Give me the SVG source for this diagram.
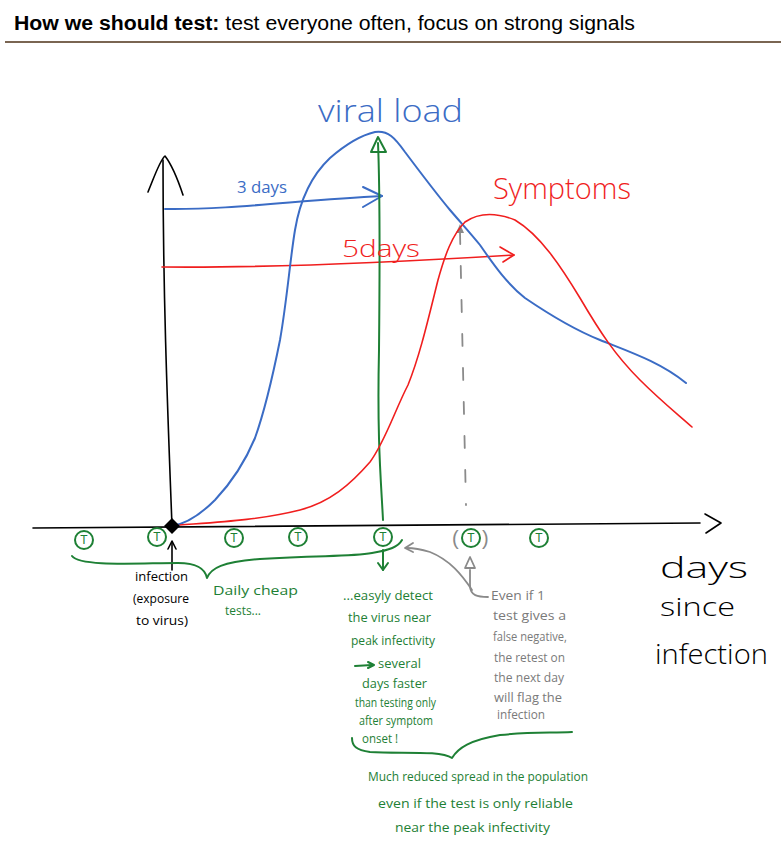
<svg xmlns="http://www.w3.org/2000/svg" width="781" height="847" viewBox="0 0 781 847">
<style>
.ln{fill:none;stroke-linecap:round;stroke-linejoin:round}
.k{stroke:#000;stroke-width:1.6}
.b{stroke:#3b6cc5;stroke-width:2}
.r{stroke:#f01e1e;stroke-width:1.6}
.g{stroke:#1e8035;stroke-width:2}
.gy{stroke:#8a8a8a;stroke-width:1.8}
.hand{font-family:"Open Sans","Liberation Sans",sans-serif}
.tg{fill:#1e8035;font-size:13px}
.tgy{fill:#7a7a7a;font-size:12px}
.tk{fill:#000;font-size:13px}
.tc{fill:none;stroke:#1e8035;stroke-width:2}
.tt{fill:#1e8035;font-family:"Liberation Sans",sans-serif;font-size:12px;text-anchor:middle}
</style>
<rect width="781" height="847" fill="#fff"/>
<g id="title">
<text x="14" y="30" font-family="Liberation Sans, sans-serif" font-size="20" fill="#000" textLength="621" lengthAdjust="spacingAndGlyphs"><tspan font-weight="bold">How we should test:</tspan> test everyone often, focus on strong signals</text>
<line x1="5" y1="42" x2="781" y2="42" stroke="#7a6552" stroke-width="2"/>
</g>
<g id="connectors">
<path class="ln k" d="M33,528 C200,526 400,524 700,523"/>
<path class="ln k" d="M705,514 L721,523 L706,533"/>
<path class="ln k" d="M172,526 C168,420 163,300 163,160"/>
<path class="ln k" d="M148,192 C155,175 160,160 165,156 C172,165 178,180 183,195"/>
<path class="ln b" d="M165,209 C230,210 300,200 382,196"/>
<path class="ln b" d="M363,187 L382,196 L363,207"/>
<path class="ln r" d="M162,267 C260,268 400,262 514,255"/>
<path class="ln r" d="M500,247 L514,255 L503,262"/>
<path class="ln g" d="M383,520 C381,480 377,440 379,350 C380,250 380,190 378,143"/>
<path class="ln g" d="M378,137 L371,152 L386,152 Z"/>
<path class="ln gy" d="M460,232 L466,505" stroke-dasharray="12,22" stroke-width="1.3"/>
<path d="M460,224 L456,233 L464,233 Z" fill="#8a8a8a"/>
<path class="ln g" d="M383,550 L383,570" stroke-width="1.6"/>
<path class="ln g" d="M378,563 L383,570 L388,563" stroke-width="1.6"/>
<path class="ln k" d="M172,570 L172,542"/>
<path class="ln k" d="M168,549 L172,541 L176,549"/>
<path class="ln gy" d="M488,597 C478,597 470,596 470,585 L470,570"/>
<path class="ln gy" d="M470,557 L465,568 L475,568 Z" stroke-width="1.4"/>
<path class="ln gy" d="M472,590 C462,575 450,560 430,552 C420,549 413,548 407,548"/>
<path class="ln gy" d="M413,543 L405,548 L413,552" stroke-width="1.4"/>
<path class="ln g" d="M72,556 C80,567 140,563 178,563 C198,563 205,569 207,578 C211,568 222,562 260,559 C320,555 350,557 372,553 C390,550 398,547 402,540" stroke-width="1.6"/>
<path class="ln g" d="M352,738 C352,746 356,750 370,752 C400,754 440,750 452,758 C458,748 470,740 500,735 C530,732 550,733 572,732" stroke-width="1.8"/>
<path class="ln g" d="M355,666 L372,665" stroke-width="1.4"/>
<path class="ln g" d="M368,662 L374,665 L368,668" stroke-width="1.4"/>
</g>
<g id="curves">
<path class="ln b" d="M172,526 C185,524 200,515 215,500 C232,482 245,462 255,438 C265,410 273,375 280,340 C287,300 290,260 295,230 C300,200 312,175 330,158 C345,145 362,135 375,132 C388,130 395,138 405,152 C420,172 435,192 450,210 C462,224 472,235 480,245 C492,262 505,282 525,298 C550,315 575,330 600,340 C630,352 660,362 686,383" stroke-width="1.6"/>
<path class="ln r" d="M180,525 C220,522 260,520 300,510 C330,502 350,485 370,462 C385,442 395,410 408,385 C420,355 428,320 438,280 C445,255 452,235 465,222 C478,213 495,212 515,220 C540,235 560,265 580,298 C600,332 615,355 640,380 C660,400 675,412 692,427"/>
</g>
<g id="labels-top">
<text x="318" y="122" class="hand" font-size="32" fill="#3b6cc5" font-weight="300" textLength="145" lengthAdjust="spacingAndGlyphs">viral load</text>
<text x="493" y="199" class="hand" font-size="30" fill="#f01e1e" font-weight="300" textLength="138" lengthAdjust="spacingAndGlyphs">Symptoms</text>
<text x="237" y="193" class="hand" font-size="16" fill="#3b6cc5" textLength="50" lengthAdjust="spacingAndGlyphs">3 days</text>
<text x="342" y="257" class="hand" font-size="24" fill="#f01e1e" font-weight="300" textLength="78" lengthAdjust="spacingAndGlyphs">5days</text>
</g>
<g id="infection-point">
<path d="M172,518 L180,526 L172,534 L164,526 Z" fill="#000"/>
</g>
<g id="tests">
<g id="t1"><circle class="tc" cx="84" cy="540" r="9"/><text class="tt" x="84" y="544">T</text></g>
<g id="t2"><circle class="tc" cx="157" cy="537" r="9"/><text class="tt" x="157" y="541">T</text></g>
<g id="t3"><circle class="tc" cx="234" cy="538" r="9"/><text class="tt" x="234" y="542">T</text></g>
<g id="t4"><circle class="tc" cx="298" cy="537" r="9"/><text class="tt" x="298" y="541">T</text></g>
<g id="t5"><circle class="tc" cx="383" cy="537" r="9"/><text class="tt" x="383" y="541">T</text></g>
<g id="t6"><circle class="tc" cx="471" cy="538" r="9"/><text class="tt" x="471" y="542">T</text><text x="452" y="545" font-family="Liberation Sans, sans-serif" font-size="20" fill="#8a8a8a">(</text><text x="482" y="545" font-family="Liberation Sans, sans-serif" font-size="20" fill="#8a8a8a">)</text></g>
<g id="t7"><circle class="tc" cx="539" cy="538" r="9"/><text class="tt" x="539" y="542">T</text></g>
</g>
<g id="label-infection">
<text class="hand tk" x="135" y="581" textLength="53" lengthAdjust="spacingAndGlyphs">infection</text>
<text class="hand tk" x="133" y="603" textLength="56" lengthAdjust="spacingAndGlyphs">(exposure</text>
<text class="hand tk" x="136" y="625" textLength="52" lengthAdjust="spacingAndGlyphs">to virus)</text>
</g>
<g id="label-daily">
<text class="hand tg" x="213" y="595" textLength="85" lengthAdjust="spacingAndGlyphs">Daily cheap</text>
<text class="hand tg" x="225" y="615" textLength="36" lengthAdjust="spacingAndGlyphs">tests...</text>
</g>
<g id="label-detect">
<text class="hand tg" x="343" y="600" textLength="90" lengthAdjust="spacingAndGlyphs">...easyly detect</text>
<text class="hand tg" x="348" y="622" textLength="83" lengthAdjust="spacingAndGlyphs">the virus near</text>
<text class="hand tg" x="351" y="645" textLength="84" lengthAdjust="spacingAndGlyphs">peak infectivity</text>
<text class="hand tg" x="378" y="668" textLength="43" lengthAdjust="spacingAndGlyphs">several</text>
<text class="hand tg" x="362" y="688" textLength="65" lengthAdjust="spacingAndGlyphs">days faster</text>
<text class="hand tg" x="355" y="707" textLength="81" lengthAdjust="spacingAndGlyphs">than testing only</text>
<text class="hand tg" x="359" y="725" textLength="74" lengthAdjust="spacingAndGlyphs">after symptom</text>
<text class="hand tg" x="362" y="743" textLength="36" lengthAdjust="spacingAndGlyphs">onset !</text>
</g>
<g id="label-even">
<text class="hand tgy" x="491" y="600" textLength="54" lengthAdjust="spacingAndGlyphs">Even if 1</text>
<text class="hand tgy" x="493" y="620" textLength="73" lengthAdjust="spacingAndGlyphs">test gives a</text>
<text class="hand tgy" x="493" y="641" textLength="74" lengthAdjust="spacingAndGlyphs">false negative,</text>
<text class="hand tgy" x="494" y="662" textLength="71" lengthAdjust="spacingAndGlyphs">the retest on</text>
<text class="hand tgy" x="494" y="682" textLength="70" lengthAdjust="spacingAndGlyphs">the next day</text>
<text class="hand tgy" x="494" y="702" textLength="68" lengthAdjust="spacingAndGlyphs">will flag the</text>
<text class="hand tgy" x="497" y="719" textLength="48" lengthAdjust="spacingAndGlyphs">infection</text>
</g>
<g id="label-spread">
<text class="hand tg" x="368" y="781" textLength="220" lengthAdjust="spacingAndGlyphs">Much reduced spread in the population</text>
<text class="hand tg" x="378" y="808" textLength="195" lengthAdjust="spacingAndGlyphs">even if the test is only reliable</text>
<text class="hand tg" x="395" y="832" textLength="155" lengthAdjust="spacingAndGlyphs">near the peak infectivity</text>
</g>
<g id="label-days">
<text x="660" y="578" class="hand" font-size="30" font-weight="300" fill="#000" textLength="88" lengthAdjust="spacingAndGlyphs">days</text>
<text x="660" y="616" class="hand" font-size="26" font-weight="300" fill="#000" textLength="75" lengthAdjust="spacingAndGlyphs">since</text>
<text x="655" y="664" class="hand" font-size="28" font-weight="300" fill="#000" textLength="113" lengthAdjust="spacingAndGlyphs">infection</text>
</g>
</svg>
